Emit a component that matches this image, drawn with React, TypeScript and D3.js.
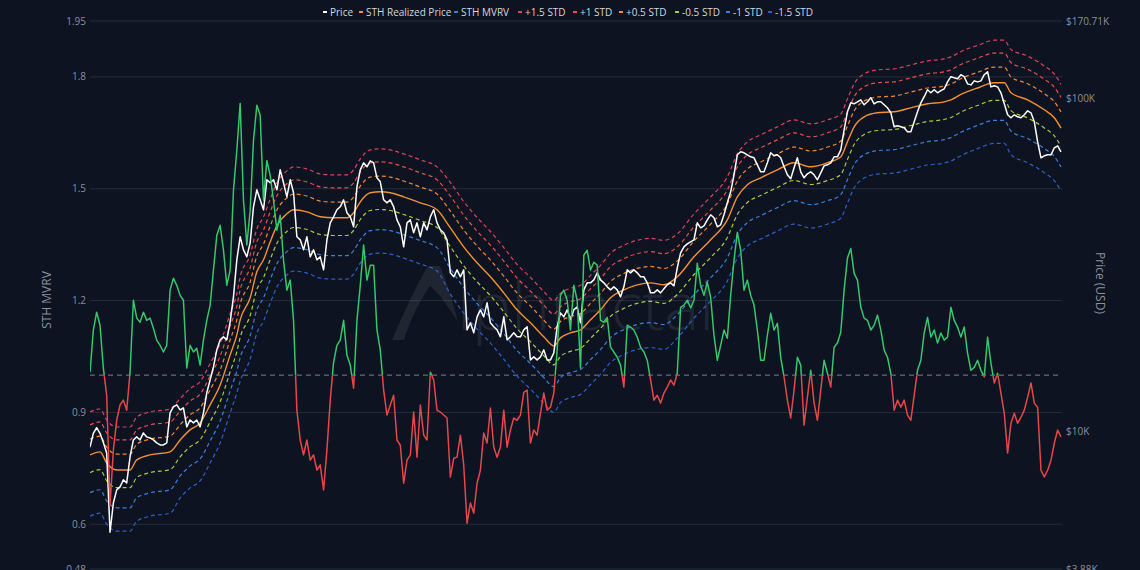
import React from 'react';
import * as d3 from 'd3';

// ---------- DATA ----------
// BTC price in thousands of USD, one value per sample step
const price: number[] = [
  9.0, 9.9, 10.3, 9.9, 9.3, 8.65, 5.0, 6.12, 6.7, 6.84, 7.18, 7.03, 8.41, 9.46, 9.66, 9.46, 9.93, 9.66, 9.59, 9.46,
  9.27, 9.14, 9.14, 9.27, 11.4, 11.88, 12.05, 11.64, 11.8, 10.35, 10.86, 10.64, 10.86, 10.35, 11.4, 13.1, 14.32, 15.66, 17.62, 18.88,
  19.28, 18.88, 21.38, 25.41, 32.81, 38.47, 35.16, 33.5, 36.9, 47.32, 53.21, 49.66, 46.35, 57.02, 55.85, 57.02, 53.21, 61.09, 55.85, 50.7,
  57.02, 52.12, 38.47, 37.67, 35.16, 38.47, 33.5, 35.16, 32.81, 33.5, 30.62, 37.67, 42.36, 44.16, 46.35, 47.32, 49.66, 45.4, 44.16, 41.21,
  54.33, 61.09, 64.12, 62.37, 65.01, 64.12, 57.81, 56.24, 49.66, 48.64, 49.66, 47.32, 43.25, 41.21, 35.89, 42.36, 43.25, 39.54, 42.36, 38.47,
  42.36, 40.37, 44.16, 46.35, 42.36, 40.37, 39.54, 37.67, 29.99, 29.18, 30.62, 29.18, 30.62, 20.23, 21.24, 19.82, 22.13, 23.23, 22.13, 24.38,
  21.24, 20.66, 20.23, 19.28, 22.13, 18.88, 19.28, 19.82, 19.28, 19.28, 20.23, 20.66, 16.44, 16.79, 16.44, 16.79, 17.62, 16.44, 16.44, 17.26,
  20.66, 22.75, 22.13, 23.23, 21.68, 23.23, 23.72, 21.24, 26.67, 27.99, 27.99, 28.58, 29.99, 28.58, 27.99, 27.23, 26.67, 27.23, 26.67, 25.41,
  27.23, 30.62, 29.99, 30.62, 29.99, 29.18, 29.18, 27.99, 26.12, 26.12, 26.67, 26.12, 26.86, 27.61, 27.99, 27.42, 31.05, 34.44, 35.89, 36.64,
  37.15, 37.67, 42.36, 40.93, 41.5, 43.25, 44.78, 43.86, 41.21, 41.78, 44.78, 48.64, 52.48, 59.02, 67.76, 69.18, 68.7, 67.76, 66.83, 66.37,
  63.24, 60.25, 60.25, 64.12, 68.7, 67.29, 67.76, 66.37, 62.37, 59.02, 57.41, 61.94, 66.37, 60.25, 57.81, 59.43, 60.25, 59.02, 57.02, 59.84,
  62.8, 63.24, 64.12, 66.83, 66.83, 70.14, 80.53, 91.19, 97.04, 96.37, 97.71, 99.07, 95.71, 97.71, 100.5, 96.37, 97.71, 97.71, 95.71, 93.74,
  90.57, 82.22, 82.79, 82.22, 81.65, 79.43, 79.43, 85.11, 91.19, 97.04, 101.2, 106.2, 104.0, 106.2, 104.0, 105.5, 106.9, 112.1, 116.2, 115.3,
  114.6, 117.8, 116.2, 110.6, 109.8, 112.9, 112.1, 112.9, 117.8, 120.2, 108.3, 109.1, 108.3, 104.0, 96.37, 89.32, 87.49, 89.32, 88.1, 87.49,
  89.32, 91.83, 90.57, 85.11, 74.13, 66.37, 67.29, 67.76, 67.76, 71.12, 72.11, 69.18,
];

// STH MVRV, same sample steps as price
const mvrv: number[] = [
  1.008, 1.121, 1.169, 1.134, 1.019, 0.946, 0.651, 0.799, 0.879, 0.92, 0.933, 0.906, 1.008, 1.201, 1.153, 1.142, 1.169, 1.147, 1.153, 1.126,
  1.094, 1.08, 1.062, 1.08, 1.228, 1.26, 1.241, 1.214, 1.201, 1.019, 1.08, 1.062, 1.072, 1.027, 1.094, 1.147, 1.188, 1.282, 1.375, 1.402,
  1.335, 1.241, 1.282, 1.496, 1.603, 1.729, 1.469, 1.349, 1.442, 1.63, 1.724, 1.697, 1.469, 1.576, 1.536, 1.469, 1.389, 1.429, 1.308, 1.228,
  1.255, 1.147, 0.906, 0.826, 0.786, 0.826, 0.772, 0.786, 0.745, 0.759, 0.692, 0.799, 0.933, 1.035, 1.08, 1.094, 1.147, 1.054, 1.027, 0.965,
  1.147, 1.241, 1.349, 1.255, 1.295, 1.295, 1.121, 1.067, 0.96, 0.893, 0.92, 0.946, 0.826, 0.812, 0.71, 0.772, 0.786, 0.901, 0.78, 0.92,
  0.839, 0.826, 1.008, 0.987, 0.906, 0.901, 0.893, 0.885, 0.727, 0.777, 0.78, 0.839, 0.759, 0.603, 0.657, 0.63, 0.71, 0.745, 0.845, 0.818,
  0.912, 0.807, 0.78, 0.807, 0.906, 0.807, 0.853, 0.885, 0.879, 0.893, 0.954, 0.96, 0.818, 0.853, 0.839, 0.898, 0.952, 0.906, 0.914, 0.952,
  1.067, 1.214, 1.228, 1.201, 1.121, 1.241, 1.201, 1.019, 1.322, 1.335, 1.282, 1.303, 1.295, 1.147, 1.142, 1.155, 1.075, 1.062, 1.048, 1.027,
  0.968, 1.134, 1.129, 1.121, 1.102, 1.075, 1.062, 1.04, 0.987, 0.933, 0.946, 0.925, 0.952, 0.968, 0.987, 0.973, 1.005, 1.182, 1.188, 1.201,
  1.18, 1.201, 1.3, 1.241, 1.214, 1.249, 1.209, 1.107, 1.04, 1.08, 1.121, 1.099, 1.214, 1.308, 1.383, 1.335, 1.228, 1.255, 1.214, 1.188,
  1.121, 1.04, 1.04, 1.107, 1.166, 1.121, 1.139, 1.048, 0.995, 0.933, 0.885, 0.96, 1.048, 1.027, 0.866, 0.941, 1.013, 0.925, 0.879, 0.96,
  1.04, 1.005, 0.968, 1.075, 1.086, 1.115, 1.228, 1.314, 1.34, 1.273, 1.255, 1.182, 1.153, 1.147, 1.121, 1.134, 1.161, 1.121, 1.067, 1.048,
  1.005, 0.906, 0.933, 0.914, 0.933, 0.893, 0.879, 0.946, 1.013, 1.04, 1.113, 1.155, 1.102, 1.121, 1.086, 1.113, 1.094, 1.102, 1.182, 1.147,
  1.129, 1.102, 1.129, 1.059, 1.013, 1.021, 1.04, 1.013, 0.995, 1.102, 1.032, 0.979, 1.005, 0.952, 0.898, 0.791, 0.871, 0.898, 0.871, 0.887,
  0.906, 0.941, 0.979, 0.925, 0.914, 0.745, 0.727, 0.745, 0.772, 0.818, 0.853, 0.834,
];

// STH realized price (thousands USD) at sample steps
const realizedIdx: number[] = [
  0, 3, 5, 8, 12, 14, 18, 24, 27, 30, 33, 36, 39, 42, 44, 45, 48, 50, 52, 54,
  56, 59, 61, 65, 69, 73, 77, 79, 81, 84, 87, 90, 94, 99, 104, 108, 112, 116, 120, 124,
  128, 132, 136, 139, 141, 144, 147, 150, 153, 156, 160, 164, 168, 172, 176, 181, 186, 191, 194, 197,
  201, 206, 211, 216, 221, 225, 227, 229, 232, 236, 241, 246, 251, 256, 258, 261, 266, 271, 274, 276,
  281, 286, 289, 291,
];
const realized: number[] = [
  8.53, 8.71, 8.07, 7.69, 7.69, 8.24, 8.53, 8.71, 9.46, 10.14, 10.64, 12.05, 13.83, 17.02, 19.54, 21.68, 25.24, 30.2, 32.81, 37.15,
  41.5, 45.09, 46.35, 45.71, 44.16, 43.86, 43.86, 45.4, 48.98, 52.12, 52.48, 52.12, 50.7, 48.64, 46.35, 40.93, 35.89, 32.14, 29.18, 26.12,
  23.23, 21.24, 19.28, 18.11, 19.14, 19.82, 20.23, 21.68, 23.23, 25.24, 26.67, 27.61, 27.99, 27.61, 29.18, 33.5, 37.67, 43.25, 50.7, 55.09,
  57.81, 61.09, 64.12, 62.37, 64.12, 66.83, 74.13, 82.22, 88.1, 90.57, 91.19, 93.74, 96.4, 97.7, 99.07, 102.8, 107.5, 111.4, 111.4, 104.0,
  99.07, 92.46, 87.49, 81.5,
];
// standard deviation as a fraction of the realized price, at the same steps
const stdRatio: number[] = [
  0.23, 0.23, 0.23, 0.23, 0.23, 0.23, 0.23, 0.23, 0.22, 0.22, 0.22, 0.22, 0.22, 0.22, 0.22, 0.23, 0.23, 0.23, 0.23, 0.23,
  0.23, 0.23, 0.23, 0.23, 0.23, 0.23, 0.23, 0.23, 0.23, 0.23, 0.23, 0.23, 0.23, 0.23, 0.23, 0.245, 0.245, 0.245, 0.245, 0.245,
  0.245, 0.245, 0.245, 0.245, 0.24, 0.24, 0.24, 0.24, 0.24, 0.24, 0.24, 0.24, 0.24, 0.24, 0.23, 0.23, 0.23, 0.23, 0.23, 0.23,
  0.23, 0.23, 0.23, 0.23, 0.23, 0.23, 0.23, 0.23, 0.23, 0.23, 0.23, 0.23, 0.23, 0.23, 0.23, 0.23, 0.228, 0.228, 0.228, 0.232,
  0.235, 0.235, 0.235, 0.235,
];

const bandMultipliers: number[] = [1.5, 1, 0.5, -0.5, -1, -1.5];
const bandLabels: string[] = ['+1.5 STD', '+1 STD', '+0.5 STD', '-0.5 STD', '-1 STD', '-1.5 STD'];
const bandColors: string[] = ['#d8455f', '#e2524f', '#ee8a3b', '#a6cc44', '#3a7fdc', '#2d5fcb'];

const mvrvTicks: number[] = [0.48, 0.6, 0.9, 1.2, 1.5, 1.8, 1.95];
const priceTicks: number[] = [3.88, 10, 100, 170.71];
const priceTickLabels: string[] = ['$3.88K', '$10K', '$100K', '$170.71K'];

// ---------- COMPONENT ----------
const W = 1140;
const H = 570;
const L = 90;
const R = 1061;
const T = 21;
const B = 569;

const BG = '#0d1320';
const FONT = '"Open Sans", "Noto Sans", sans-serif';

export default function App() {
  const x = d3.scaleLinear().domain([0, price.length - 1]).range([L, R]);
  const yL = d3.scaleLinear().domain([0.48, 1.95]).range([B, T]);
  const yR = d3.scaleLog().domain([3.88, 170.71]).range([B, T]);

  const priceLine = d3.line<number>().x((_, i) => x(i)).y((d) => yR(d));
  const mvrvLine = d3.line<number>().x((_, i) => x(i)).y((d) => yL(d));
  const realPts: [number, number][] = realizedIdx.map((ix, j) => [ix, realized[j]]);
  const realLine = d3
    .line<[number, number]>()
    .x((d) => x(d[0]))
    .y((d) => yR(d[1]))
    .curve(d3.curveMonotoneX);

  const bands = bandMultipliers.map((k, bi) => {
    const pts: [number, number][] = realizedIdx.map((ix, j) => [ix, realized[j] * (1 + k * stdRatio[j])]);
    return { path: realLine(pts) || '', color: bandColors[bi] };
  });

  const y1 = yL(1);

  const legend = [
    { label: 'Price', color: '#ffffff', x: 326 },
    { label: 'STH Realized Price', color: '#f39233', x: 362 },
    { label: 'STH MVRV', color: '#3a7fdc', x: 457 },
    { label: bandLabels[0], color: bandColors[0], x: 521 },
    { label: bandLabels[1], color: bandColors[1], x: 576 },
    { label: bandLabels[2], color: bandColors[2], x: 622 },
    { label: bandLabels[3], color: bandColors[3], x: 678 },
    { label: bandLabels[4], color: bandColors[4], x: 729 },
    { label: bandLabels[5], color: bandColors[5], x: 771 },
  ];

  return (
    <svg
      width={W}
      height={H}
      style={{ position: 'absolute', left: 0, top: 0, display: 'block', background: BG }}
      fontFamily={FONT}
    >
      <defs>
        <clipPath id="plot">
          <rect x={L} y={T - 3} width={R - L + 2} height={B - T + 3} />
        </clipPath>
        <clipPath id="above">
          <rect x={L - 2} y={0} width={R - L + 4} height={y1} />
        </clipPath>
        <clipPath id="below">
          <rect x={L - 2} y={y1} width={R - L + 4} height={H - y1} />
        </clipPath>
      </defs>
      <rect x={0} y={0} width={W} height={H} fill={BG} />

      {/* grid */}
      {mvrvTicks.map((t) => (
        <line key={'g' + t} x1={L} x2={R + 1} y1={yL(t)} y2={yL(t)} stroke="#252c3b" strokeWidth={1} />
      ))}

      {/* watermark */}
      <g opacity={0.075} fill="#ffffff">
        <path d="M392,340 C404,312 416,286 428,266 L440,266 C446,280 452,300 458,322 C448,306 438,292 430,286 C420,300 410,320 404,340 Z" />
        <text x={457} y={330} fontSize={66} fontWeight={300} fontFamily={FONT}>
          lphractal
        </text>
      </g>

      {/* left ticks */}
      {mvrvTicks.map((t) => (
        <text key={'l' + t} x={86} y={yL(t) + 3.5} textAnchor="end" fontSize={10} fill="#8a909b">
          {t}
        </text>
      ))}
      {/* right ticks */}
      {priceTicks.map((t, i) => (
        <text key={'r' + t} x={1066} y={yR(t) + 3.5} textAnchor="start" fontSize={10} fill="#8a909b">
          {priceTickLabels[i]}
        </text>
      ))}
      <text transform={`translate(51,${300}) rotate(-90)`} textAnchor="middle" fontSize={12} fill="#8a909b">
        STH MVRV
      </text>
      <text transform={`translate(1096,${283}) rotate(90)`} textAnchor="middle" fontSize={12} fill="#8a909b">
        Price (USD)
      </text>

      <g clipPath="url(#plot)">
        {/* 1.0 reference */}
        <line x1={L} x2={R} y1={y1} y2={y1} stroke="#7b808a" strokeWidth={1} strokeDasharray="5,4" />

        {/* bands */}
        {bands.map((b, i) => (
          <path key={'b' + i} d={b.path} fill="none" stroke={b.color} strokeWidth={1.2} strokeDasharray="4,3" />
        ))}

        {/* realized */}
        <path d={realLine(realPts) || ''} fill="none" stroke="#f39233" strokeWidth={1.4} />

        {/* price */}
        <path d={priceLine(price) || ''} fill="none" stroke="#ffffff" strokeWidth={1.5} strokeLinejoin="round" />

        {/* MVRV */}
        <path
          d={mvrvLine(mvrv) || ''}
          fill="none"
          stroke="#36c66b"
          strokeWidth={1.5}
          strokeLinejoin="round"
          clipPath="url(#above)"
        />
        <path
          d={mvrvLine(mvrv) || ''}
          fill="none"
          stroke="#e6474b"
          strokeWidth={1.5}
          strokeLinejoin="round"
          clipPath="url(#below)"
        />
      </g>

      {/* legend */}
      {legend.map((it) => (
        <g key={it.label}>
          <line x1={it.x - 3} x2={it.x + 1} y1={12} y2={12} stroke={it.color} strokeWidth={2} />
          <text x={it.x + 4} y={15.5} fontSize={10} fill="#d4d7dd">
            {it.label}
          </text>
        </g>
      ))}
    </svg>
  );
}
